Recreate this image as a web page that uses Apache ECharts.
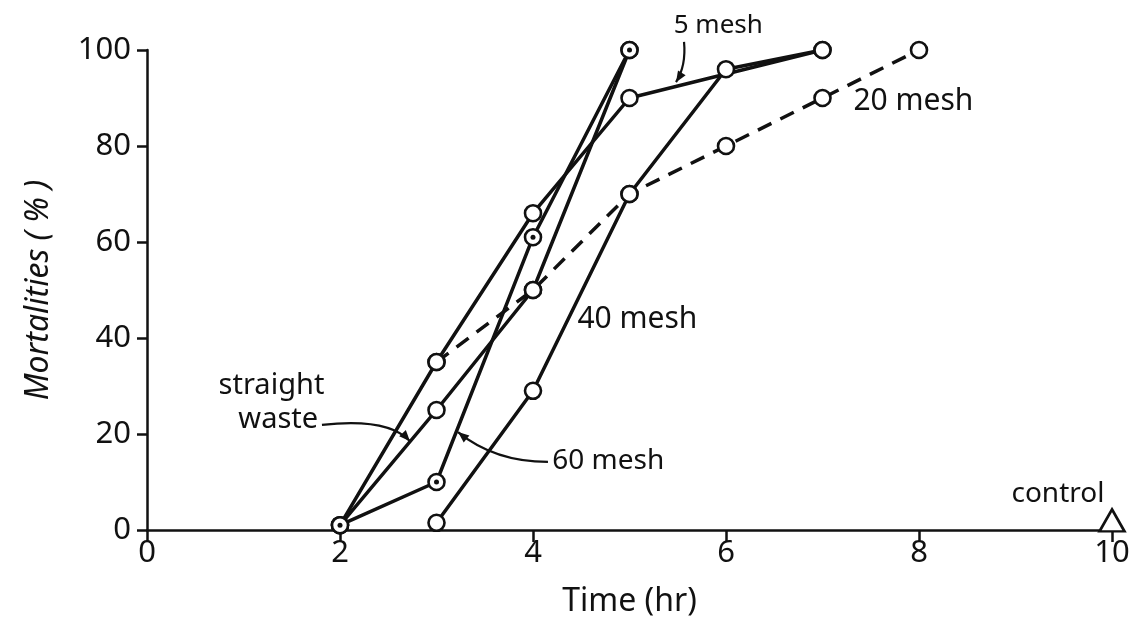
<!DOCTYPE html>
<html><head><meta charset="utf-8">
<script src="https://cdn.jsdelivr.net/npm/echarts@6/dist/echarts.min.js"></script>
<style>html,body{margin:0;padding:0;background:#fff}#c{width:1134px;height:625px}</style>
</head><body><div id="c"></div>
<script>
// ---- data ----
const xTicks = [0, 2, 4, 6, 8, 10];
const yTicks = [0, 20, 40, 60, 80, 100];
const mesh5 = [[2, 1], [3, 35], [4, 66], [5, 90], [7, 100]];
const mesh20 = [[3, 35], [4, 50], [5, 70], [6, 80], [7, 90], [8, 100]];
const mesh40 = [[3, 1.5], [4, 29], [5, 70], [6, 96], [7, 100]];
const mesh60 = [[2, 1], [3, 10], [4, 61], [5, 100]];
const straightWaste = [[2, 1], [3, 25], [4, 50], [5, 100]];
const control = [[10, 2]];

// ---- annotation text / arrows (in data units) ----
const labels = [
  { text: '5 mesh', at: [5.92, 105], align: 'center', size: 26 },
  { text: '20 mesh', at: [7.32, 89.2], align: 'left', size: 30 },
  { text: '40 mesh', at: [4.46, 43.8], align: 'left', size: 30 },
  { text: '60 mesh', at: [4.2, 14.4], align: 'left', size: 28 },
  { text: 'straight', at: [1.29, 30], align: 'center', size: 29 },
  { text: 'waste', at: [1.36, 22.9], align: 'center', size: 29 },
  { text: 'control', at: [9.44, 7.5], align: 'center', size: 28 }
];
const arrows = [
  [[5.565, 101.7], [5.58, 98.5], [5.55, 95.5], [5.482, 93.3]],
  [[1.813, 21.9], [2.26, 22.9], [2.57, 21.9], [2.725, 18.5]],
  [[4.155, 14.2], [3.76, 14.2], [3.45, 16.7], [3.223, 20.4]]
];

const FONT = 'Noto Sans';
const INK = '#111';
const chart = echarts.init(document.getElementById('c'));

function lineSeries(name, data, dashed) {
  return { type: 'line', name, data, symbol: 'none', z: 2, silent: true,
    lineStyle: { color: INK, width: 3.5, type: dashed ? [15, 10] : 'solid' } };
}
function markSeries(name, data) {
  return { type: 'scatter', name: name + ' markers', data, symbol: 'circle', symbolSize: 16, z: 3,
    itemStyle: { color: '#fff', borderColor: INK, borderWidth: 2.6, opacity: 1 } };
}

chart.setOption({
  animation: false,
  backgroundColor: '#fff',
  grid: { left: 147, right: 22, top: 50, bottom: 95 },
  xAxis: {
    type: 'value', min: xTicks[0], max: xTicks[xTicks.length - 1], interval: 2,
    name: 'Time (hr)', nameLocation: 'middle', nameGap: 56,
    nameTextStyle: { fontFamily: FONT, fontSize: 32, color: INK },
    splitLine: { show: false },
    axisLine: { show: true, lineStyle: { color: INK, width: 2.5 } },
    axisTick: { show: true, length: 12, lineStyle: { color: INK, width: 2.5 } },
    axisLabel: { fontFamily: FONT, fontSize: 31, color: INK, margin: 8 }
  },
  yAxis: {
    type: 'value', min: yTicks[0], max: yTicks[yTicks.length - 1], interval: 20,
    name: 'Mortalities ( % )', nameLocation: 'middle', nameGap: 92,
    nameTextStyle: { fontFamily: FONT, fontSize: 32, color: INK, fontStyle: 'italic' },
    splitLine: { show: false },
    axisLine: { show: true, lineStyle: { color: INK, width: 2.5 } },
    axisTick: { show: true, length: 10, lineStyle: { color: INK, width: 2.5 } },
    axisLabel: { fontFamily: FONT, fontSize: 31, color: INK, margin: 16 }
  },
  series: [
    lineSeries('5 mesh', mesh5, false),
    lineSeries('20 mesh', mesh20, true),
    lineSeries('40 mesh', mesh40, false),
    lineSeries('60 mesh', mesh60, false),
    lineSeries('straight waste', straightWaste, false),
    markSeries('5 mesh', mesh5),
    markSeries('20 mesh', mesh20),
    markSeries('40 mesh', mesh40),
    markSeries('straight waste', straightWaste),
    markSeries('60 mesh', mesh60),
    { type: 'scatter', name: '60 mesh dots', data: mesh60, symbol: 'circle', symbolSize: 5, z: 4,
      itemStyle: { color: INK, opacity: 1 } },
    { type: 'scatter', name: 'control', data: control, symbol: 'triangle', symbolSize: [25, 22], z: 3,
      itemStyle: { color: '#fff', borderColor: INK, borderWidth: 2.6, opacity: 1 } }
  ]
});

const px = p => chart.convertToPixel({ gridIndex: 0 }, p);
const graphics = [];
labels.forEach(l => {
  const [x, y] = px(l.at);
  graphics.push({ type: 'text', x, y, z: 10,
    style: { text: l.text, fill: INK, font: l.size + 'px "' + FONT + '"', textAlign: l.align, textVerticalAlign: 'middle' } });
});
arrows.forEach(a => {
  const [p1, c1, c2, p2] = a.map(px);
  graphics.push({ type: 'bezierCurve', z: 10,
    shape: { x1: p1[0], y1: p1[1], cpx1: c1[0], cpy1: c1[1], cpx2: c2[0], cpy2: c2[1], x2: p2[0], y2: p2[1] },
    style: { stroke: INK, lineWidth: 2.2, fill: null } });
  const dx = p2[0] - c2[0], dy = p2[1] - c2[1];
  const L = Math.hypot(dx, dy) || 1;
  const ux = dx / L, uy = dy / L, nx = -uy, ny = ux;
  const len = 11, w = 4.5;
  const bx = p2[0] - ux * len, by = p2[1] - uy * len;
  graphics.push({ type: 'polygon', z: 10,
    shape: { points: [[p2[0], p2[1]], [bx + nx * w, by + ny * w], [bx - nx * w, by - ny * w]] },
    style: { fill: INK } });
});
chart.setOption({ graphic: graphics });
</script>
</body></html>
